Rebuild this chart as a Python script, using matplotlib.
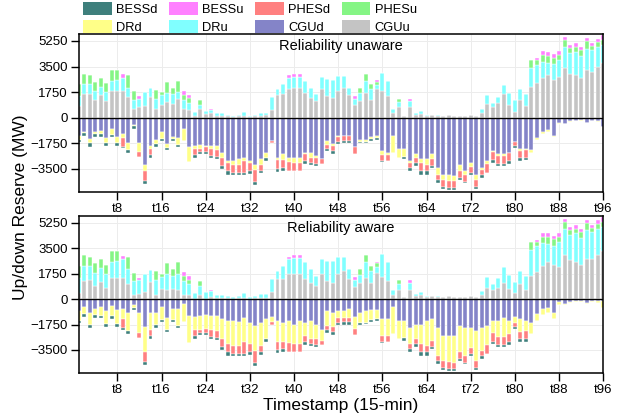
import numpy as np
import matplotlib
matplotlib.use('Agg')
import matplotlib.pyplot as plt
from matplotlib.patches import Patch

plt.rcParams['font.family'] = ['Liberation Sans', 'DejaVu Sans']

# timestamps t1..t96
steps = np.arange(1, 97)
tick_steps = list(range(8, 97, 8))
tick_labels = ['t%d' % t for t in tick_steps]

# ---- up reserve (MW) ----
CGUu_unaware = [770, 1590, 1630, 1240, 1520, 1120, 1820, 1820, 1820, 1400,
                600, 720, 770, 1400, 630, 890, 1050, 960, 1250, 600,
                530, 120, 580, 260, 300, 120, 120, 120, 30, 120,
                150, 60, 100, 150, 200, 540, 1520, 1590, 1980, 2050,
                2050, 1700, 1350, 1120, 1940, 1470, 1350, 1820, 2050, 1520,
                890, 1120, 1700, 1240, 1940, 1820, 1470, 350, 720, 120,
                720, 190, 260, 120, 190, 120, 120, 190, 120, 120,
                120, 190, 120, 300, 960, 720, 1000, 1590, 890, 420,
                1240, 820, 2120, 2360, 2690, 2910, 2570, 2800, 3410, 2960,
                2910, 2730, 3250, 3140, 3480, 3710]
DRu_unaware = [700, 700, 650, 580, 600, 630, 700, 770, 930, 650,
               630, 560, 980, 600, 680, 630, 650, 630, 500, 630,
               470, 280, 300, 230, 230, 190, 190, 70, 90, 60,
               270, 60, 90, 200, 150, 860, 420, 700, 770, 750,
               750, 820, 700, 470, 820, 1170, 1240, 1050, 820, 540,
               400, 540, 820, 700, 280, 1240, 1050, 260, 330, 0,
               400, 160, 230, 90, 0, 70, 0, 0, 0, 0,
               0, 0, 0, 280, 560, 280, 420, 630, 770, 770,
               700, 770, 1260, 1260, 1130, 860, 1090, 1130, 1430, 1470,
               1590, 1470, 1480, 1470, 1360, 1250]
CGUu_aware = [420, 1240, 1280, 890, 1170, 770, 1420, 1420, 1420, 1000,
              300, 350, 470, 1170, 300, 660, 650, 660, 650, 300,
              300, 30, 300, 30, 110, 60, 60, 60, 30, 60,
              80, 30, 50, 80, 100, 470, 1360, 1360, 1700, 1750,
              1750, 1350, 1120, 890, 1710, 1240, 1120, 1700, 1930, 1360,
              820, 1120, 1470, 1120, 1820, 1520, 1240, 250, 620, 120,
              620, 190, 260, 120, 190, 120, 120, 190, 120, 120,
              120, 190, 120, 300, 770, 650, 770, 1120, 660, 420,
              1010, 610, 1590, 1870, 2260, 2570, 2330, 2220, 3030, 2680,
              2570, 2330, 2730, 2730, 3030, 3270]
DRu_aware = [1050, 1050, 1000, 930, 950, 980, 1100, 1170, 1330, 1050,
             930, 930, 1280, 830, 1010, 860, 1050, 930, 1100, 930,
             700, 370, 580, 460, 420, 250, 250, 130, 90, 120,
             340, 90, 140, 270, 250, 930, 580, 930, 1050, 1050,
             1050, 1170, 930, 700, 1050, 1400, 1470, 1170, 940, 700,
             470, 540, 1050, 820, 400, 1540, 1280, 360, 430, 0,
             500, 160, 230, 90, 0, 70, 0, 0, 0, 0,
             0, 0, 0, 280, 750, 350, 650, 1100, 1000, 770,
             930, 980, 1790, 1750, 1560, 1200, 1330, 1710, 1810, 1750,
             1930, 1870, 2000, 1880, 1810, 1690]
PHESu = [820, 700, 630, 630, 630, 600, 770, 700, 0, 860,
         580, 0, 0, 0, 580, 230, 750, 470, 770, 350,
         330, 0, 350, 0, 0, 0, 0, 0, 0, 0,
         0, 0, 0, 0, 0, 0, 0, 0, 0, 0,
         0, 0, 0, 0, 0, 0, 0, 0, 0, 0,
         0, 400, 470, 350, 230, 0, 0, 0, 230, 0,
         0, 0, 0, 0, 0, 0, 0, 0, 0, 0,
         0, 0, 0, 0, 0, 0, 0, 0, 0, 0,
         0, 0, 540, 300, 450, 460, 430, 340, 460, 340,
         340, 410, 500, 300, 340, 340]
BESSu = [0, 0, 0, 0, 0, 0, 0, 0, 230, 0,
         0, 190, 0, 0, 0, 0, 0, 0, 0, 280,
         230, 0, 0, 0, 90, 0, 0, 0, 0, 0,
         0, 0, 0, 0, 0, 0, 0, 0, 160, 190,
         190, 0, 0, 0, 0, 0, 0, 0, 0, 0,
         190, 0, 0, 0, 120, 0, 0, 0, 0, 0,
         160, 0, 0, 0, 0, 0, 0, 0, 0, 0,
         0, 0, 0, 0, 0, 0, 0, 0, 0, 0,
         0, 0, 0, 160, 280, 270, 250, 280, 200, 190,
         270, 210, 220, 200, 230, 340]

# ---- down reserve (MW, magnitude) ----
CGUd_unaware = [1280, 980, 1450, 980, 910, 1380, 800, 1330, 1100, 1730,
                470, 1730, 3200, 1910, 1500, 980, 1800, 1330, 1380, 750,
                2000, 1910, 1870, 1910, 1910, 1910, 2390, 2960, 2960, 2850,
                2730, 2960, 3200, 2850, 2390, 1570, 2730, 2500, 2730, 2730,
                2730, 2390, 2390, 2620, 2850, 1560, 1800, 1280, 1280, 1280,
                2030, 1520, 1520, 1330, 1280, 2270, 2390, 1220, 2150, 2150,
                2960, 2500, 2850, 2850, 2500, 3430, 3900, 3900, 4010, 3200,
                3620, 3080, 3900, 3430, 2960, 2270, 2500, 2450, 2390, 1630,
                2150, 2150, 2220, 1380, 980, 870, 1220, 350, 440, 210,
                210, 160, 350, 210, 210, 630]
DRd_unaware = [210, 70, 300, 120, 230, 350, 350, 400, 280, 490,
               120, 580, 470, 230, 300, 470, 300, 120, 490, 820,
               1000, 230, 280, 120, 230, 300, 350, 120, 300, 350,
               230, 120, 350, 350, 350, 0, 190, 420, 300, 350,
               350, 120, 350, 120, 0, 300, 120, 50, 0, 0,
               0, 120, 120, 120, 90, 300, 160, 1170, 580, 540,
               120, 230, 230, 350, 350, 470, 350, 420, 350, 470,
               280, 300, 350, 120, 190, 70, 120, 160, 0, 0,
               120, 70, 160, 140, 120, 120, 120, 90, 0, 50,
               0, 50, 0, 0, 50, 0]
CGUd_aware = [820, 580, 930, 700, 580, 820, 470, 770, 700, 930,
              400, 930, 1940, 930, 930, 580, 1280, 700, 700, 350,
              1170, 1240, 1170, 1100, 1170, 1170, 1400, 1500, 1500, 1600,
              1280, 1630, 1870, 1630, 1400, 1240, 1520, 1630, 1520, 1750,
              1520, 1630, 1520, 1750, 2100, 820, 930, 820, 820, 700,
              1240, 930, 820, 770, 770, 1400, 1400, 580, 1520, 1520,
              1980, 1750, 1750, 1520, 1400, 1980, 2570, 2570, 2570, 1870,
              1980, 1980, 2220, 1980, 1870, 1520, 1520, 1280, 1520, 1240,
              1400, 1520, 1630, 1050, 700, 650, 930, 230, 350, 200,
              150, 150, 280, 150, 150, 150]
DRd_aware = [670, 470, 820, 400, 560, 910, 680, 960, 680, 1290,
             190, 1380, 1730, 1210, 870, 870, 820, 750, 1170, 1220,
             1830, 900, 980, 930, 970, 1040, 1340, 1580, 1760, 1600,
             1680, 1450, 1680, 1570, 1340, 330, 1400, 1290, 1510, 1330,
             1560, 880, 1220, 990, 750, 1040, 990, 510, 460, 580,
             790, 710, 820, 680, 600, 1170, 1150, 1810, 1210, 1170,
             1100, 980, 1330, 1680, 1450, 1920, 1680, 1750, 1790, 1800,
             1920, 1400, 2030, 1570, 1280, 820, 1100, 1330, 870, 390,
             870, 700, 750, 470, 400, 340, 410, 210, 90, 60,
             60, 60, 70, 60, 110, 480]
PHESd = [0, 0, 0, 0, 0, 0, 0, 0, 600, 0,
         0, 370, 650, 400, 0, 0, 0, 0, 0, 0,
         0, 400, 160, 280, 470, 470, 580, 580, 510, 580,
         820, 580, 820, 470, 0, 190, 560, 510, 580, 580,
         580, 470, 350, 420, 300, 280, 350, 350, 280, 330,
         470, 0, 0, 0, 0, 400, 420, 0, 0, 0,
         350, 350, 580, 470, 470, 350, 470, 470, 470, 470,
         470, 400, 470, 350, 630, 580, 540, 540, 580, 280,
         470, 510, 0, 0, 0, 0, 0, 0, 0, 0,
         0, 0, 0, 0, 0, 0]
BESSd = [190, 190, 230, 190, 190, 190, 190, 190, 120, 190,
         190, 0, 230, 230, 190, 120, 140, 160, 140, 0,
         0, 190, 140, 140, 120, 160, 160, 230, 160, 160,
         160, 190, 230, 140, 190, 0, 230, 190, 0, 0,
         0, 190, 160, 140, 0, 160, 190, 120, 190, 140,
         0, 120, 90, 120, 140, 70, 0, 0, 0, 160,
         190, 230, 230, 230, 120, 190, 120, 120, 140, 120,
         120, 120, 120, 190, 0, 160, 160, 160, 190, 160,
         190, 190, 0, 0, 0, 0, 0, 0, 0, 0,
         0, 0, 0, 0, 0, 0]

colors = {
    'BESSd': '#3e7f7c', 'BESSu': '#ff80ff', 'PHESd': '#ff8080', 'PHESu': '#85f585',
    'DRd': '#ffff88', 'DRu': '#80ffff', 'CGUd': '#8484c8', 'CGUu': '#c4c4c4',
}


def draw_panel(ax, up, down, title):
    # up: stacked from zero upwards, down: stacked from zero downwards
    base = np.zeros(len(steps))
    for name, vals in up:
        v = np.array(vals, dtype=float)
        ax.bar(steps, v, bottom=base, width=0.72, color=colors[name],
               edgecolor='white', linewidth=0.3, zorder=2)
        base = base + v
    base = np.zeros(len(steps))
    for name, vals in down:
        v = -np.array(vals, dtype=float)
        ax.bar(steps, v, bottom=base, width=0.72, color=colors[name],
               edgecolor='white', linewidth=0.3, zorder=2)
        base = base + v
    ax.axhline(0, color='black', lw=1.0, zorder=3)
    ax.set_xlim(1.05, 96)
    ax.set_ylim(-5100, 5700)
    ax.set_yticks([-3500, -1750, 0, 1750, 3500, 5250])
    ax.set_xticks(tick_steps)
    ax.set_xticklabels(tick_labels)
    ax.tick_params(labelsize=9.5, length=5.5, width=1, direction='out', pad=2.5)
    ax.grid(True, color='#ececec', lw=0.7, zorder=0)
    ax.set_axisbelow(True)
    for s in ax.spines.values():
        s.set_linewidth(1.1)
        s.set_color('black')
    ax.text(0.5, 0.925, title, transform=ax.transAxes, ha='center', va='center',
            fontsize=10.5, zorder=5)


fig = plt.figure(figsize=(6.35, 4.15), dpi=100)
ax1 = fig.add_axes([0.1244, 0.5366, 0.8256, 0.3806])
ax2 = fig.add_axes([0.1244, 0.1005, 0.8256, 0.379])

draw_panel(ax1,
           [('CGUu', CGUu_unaware), ('DRu', DRu_unaware), ('PHESu', PHESu), ('BESSu', BESSu)],
           [('CGUd', CGUd_unaware), ('DRd', DRd_unaware), ('PHESd', PHESd), ('BESSd', BESSd)],
           'Reliability unaware')
draw_panel(ax2,
           [('CGUu', CGUu_aware), ('DRu', DRu_aware), ('PHESu', PHESu), ('BESSu', BESSu)],
           [('CGUd', CGUd_aware), ('DRd', DRd_aware), ('PHESd', PHESd), ('BESSd', BESSd)],
           'Reliability aware')

ax2.set_xlabel('Timestamp (15-min)', fontsize=12.5, labelpad=1)
fig.text(0.032, 0.5, 'Up/down Reserve (MW)', rotation=90, ha='center', va='center',
         fontsize=12.5)

# legend fills column-wise, so interleave to get two rows of four
order = ['BESSd', 'DRd', 'BESSu', 'DRu', 'PHESd', 'CGUd', 'PHESu', 'CGUu']
handles = [Patch(facecolor=colors[n], edgecolor='none') for n in order]
fig.legend(handles, order, ncol=4, loc='upper left', bbox_to_anchor=(0.131, 0.995),
           frameon=False, fontsize=9.3, handlelength=2.2, handleheight=1.15,
           handletextpad=0.35, columnspacing=0.9, labelspacing=0.3,
           borderpad=0, borderaxespad=0)

fig.savefig('out.png', dpi=100)
